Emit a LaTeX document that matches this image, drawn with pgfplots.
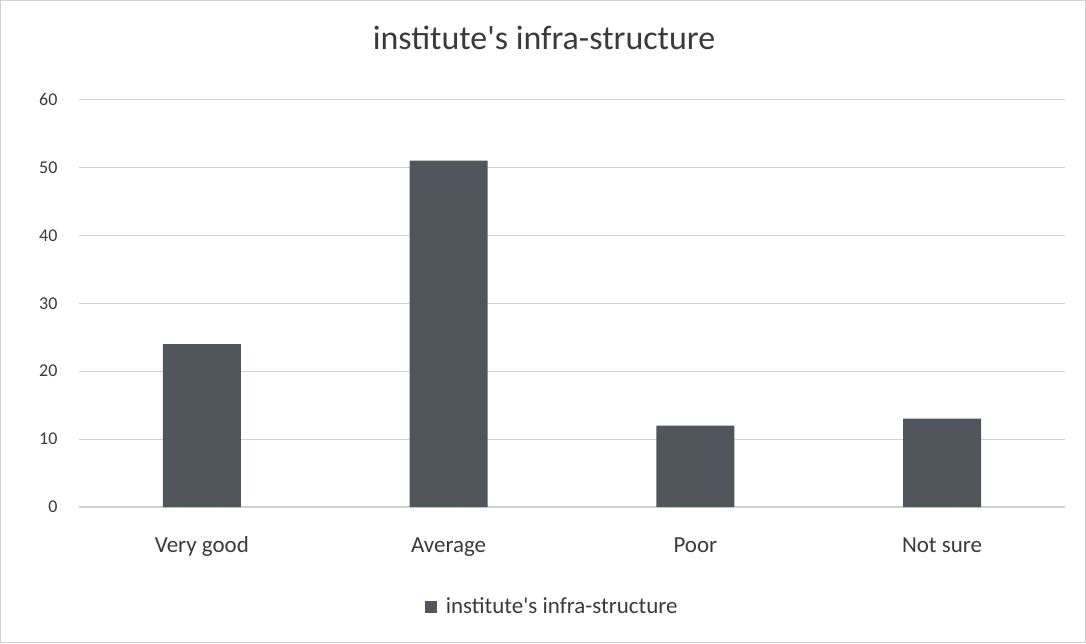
\documentclass[border=0pt]{standalone}
\usepackage{pgfplots}
\pgfplotsset{compat=1.18}
\usepackage{fontspec}
\setmainfont{Carlito}
\definecolor{barc}{HTML}{50565C}
\definecolor{gridc}{HTML}{D0D0D0}
\definecolor{txt}{HTML}{3A3A3A}
\begin{document}
\begin{tikzpicture}[x=1pt,y=1pt]
\draw[gridc, line width=0.6pt] (0,0) rectangle (543,321.5);
\begin{axis}[
  at={(39pt,68pt)}, anchor=south west,
  scale only axis, width=494pt, height=204pt,
  xmin=-0.5, xmax=3.5, ymin=0, ymax=60,
  ytick={0,10,...,60},
  xtick={0,1,2,3},
  xticklabels={Very good,Average,Poor,Not sure},
  axis line style={draw=none},
  major tick length=0pt,
  ymajorgrids, grid style={gridc, line width=0.6pt},
  yticklabel style={font=\fontsize{9}{10}\selectfont, text=txt, xshift=-7pt},
  /pgf/number format/assume math mode=true,
  xticklabel style={font=\fontsize{11.5}{13}\selectfont, text=txt, yshift=-11pt,
    text height=8pt, text depth=2.5pt},
  legend style={at={(0.481,-0.245)}, anchor=center, draw=none, fill=none,
    font=\fontsize{11.5}{13}\selectfont, text=txt},
  legend image code/.code={\fill[barc] (0pt,-3pt) rectangle (6pt,3pt);},
]
\addplot[ybar, bar width=39pt, fill=barc, draw=none] coordinates {(0,24) (1,51) (2,12) (3,13)};
\addlegendentry{\hspace{2.5pt}institute\textquotesingle s infra-structure}
\end{axis}
\node[text=txt, font=\fontsize{17}{20}\selectfont] at (272,303) {institute\textquotesingle s infra-structure};
\end{tikzpicture}
\end{document}
